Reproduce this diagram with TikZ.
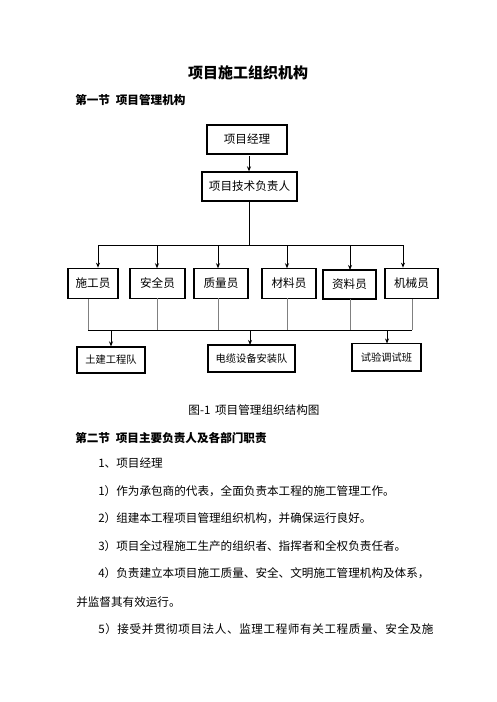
\documentclass[tikz,border=0pt]{standalone}
\usepackage{fontspec}
\setmainfont{Noto Sans CJK SC}
\usepackage{tikz}
\usetikzlibrary{positioning}
\usetikzlibrary{arrows.meta}
\usepackage{xcolor}

\newcommand{\bodysize}{\fontsize{8.7}{10}\selectfont}
\newcommand{\smallsize}{\fontsize{7.7}{9}\selectfont}
\newcommand{\titlesize}{\fontsize{11.25}{13}\selectfont}

\begin{document}
\begin{tikzpicture}[x=0.75pt, y=-0.75pt,
    box/.style={draw, line width=0.9pt, inner sep=0pt, font=\bodysize},
    team/.style={draw, line width=0.9pt, inner sep=0pt, font=\smallsize},
    txt/.style={inner sep=0pt, anchor=west, font=\bodysize},
    head/.style={inner sep=0pt, anchor=west, font=\bodysize\bfseries},
    arr/.style={line width=0.75pt, -{Stealth[length=3.8pt, width=3pt]}},
    bus/.style={line width=0.75pt},
    thin/.style={line width=0.5pt, gray}]
            \useasboundingbox[fill=white] (0,0) rectangle (496,702);

            \node[inner sep=0pt, font=\titlesize\bfseries] (title) at (248,73) {项目施工组织机构};
            \node[head] (sec1) at (75,100) {第一节\hspace{0.5em}项目管理机构};

            \node[box, minimum width=60pt, minimum height=21.75pt] (pm) at (247,139.5) {项目经理};
            \node[box, minimum width=71.25pt, minimum height=21.75pt] (tech) at (249.5,186.5) {项目技术负责人};

            \node[box, minimum width=37.5pt, minimum height=22.5pt] (sg) at (93,283.3) {施工员};
            \node[box, minimum width=41.25pt, minimum height=22.5pt] (aq) at (157.5,283.3) {安全员};
            \node[box, minimum width=40.5pt, minimum height=22.5pt] (zl) at (221,283.3) {质量员};
            \node[box, minimum width=40.5pt, minimum height=22.5pt] (cl) at (289,283.3) {材料员};
            \node[box, minimum width=39.75pt, minimum height=21.75pt] (zy) at (349.5,284.5) {资料员};
            \node[box, minimum width=39.75pt, minimum height=22.5pt] (jx) at (411.5,283.3) {机械员};

            \node[team, minimum width=51pt, minimum height=19.5pt] (tj) at (111,360) {土建工程队};
            \node[team, minimum width=65.25pt, minimum height=20.25pt] (dl) at (251.5,358.5) {电缆设备安装队};
            \node[team, minimum width=51.75pt, minimum height=20.6pt] (sy) at (386.5,357.2) {试验调试班};

            \coordinate (a0) at (249,156);
            \coordinate (b0) at (249,245);
            \coordinate (bl) at (98,245);
            \coordinate (br) at (403,245);
            \coordinate (cl0) at (88,330);
            \coordinate (cr0) at (412,330);

            \draw[arr] (a0) -- (a0 |- tech.north);
            \draw[bus] (tech.south -| b0) -- (b0);
            \draw[bus] (bl) -- (br);
            \draw[arr] (bl) -- (bl |- sg.north);
            \draw[arr] (157,245) -- (157,268.3);
            \draw[arr] (218,245) -- (218,268.3);
            \draw[arr] (287,245) -- (287,268.3);
            \draw[arr] (350,245) -- (350,270);
            \draw[arr] (br) -- (br |- jx.north);

            \draw[thin] (cl0 |- sg.south) -- (cl0);
            \draw[thin] (157,298.3) -- (157,330);
            \draw[thin] (218,298.3) -- (218,330);
            \draw[thin] (287,298.3) -- (287,330);
            \draw[thin] (350,299) -- (350,330);
            \draw[thin] (cr0 |- jx.south) -- (cr0);
            \draw[bus] (cl0) -- (cr0);

            \draw[arr] (111,330) -- (tj.north);
            \draw[arr] (250,330) -- (250,345);
            \draw[arr] (387,330) -- (387,343.5);

            \node[inner sep=0pt, font=\bodysize] (cap) at (254,410) {图-1\hspace{0.4em}项目管理组织结构图};
            \node[head] (sec2) at (75,438) {第二节\hspace{0.5em}项目主要负责人及各部门职责};
            \node[txt] (p0) at (98,463) {1、项目经理};
            \node[txt] (p1) at (98,491) {1）作为承包商的代表，全面负责本工程的施工管理工作。};
            \node[txt] (p2) at (98,518) {2）组建本工程项目管理组织机构，并确保运行良好。};
            \node[txt] (p3) at (98,546) {3）项目全过程施工生产的组织者、指挥者和全权负责任者。};
            \node[txt] (p4) at (98,573) {4）负责建立本项目施工质量、安全、文明施工管理机构及体系，};
            \node[txt] (p4b) at (76,602) {并监督其有效运行。};
            \node[txt] (p5) at (98,629) {\addfontfeature{LetterSpace=5}5）接受并贯彻项目法人、监理工程师有关工程质量、安全及施};
        \end{tikzpicture}
\end{document}
